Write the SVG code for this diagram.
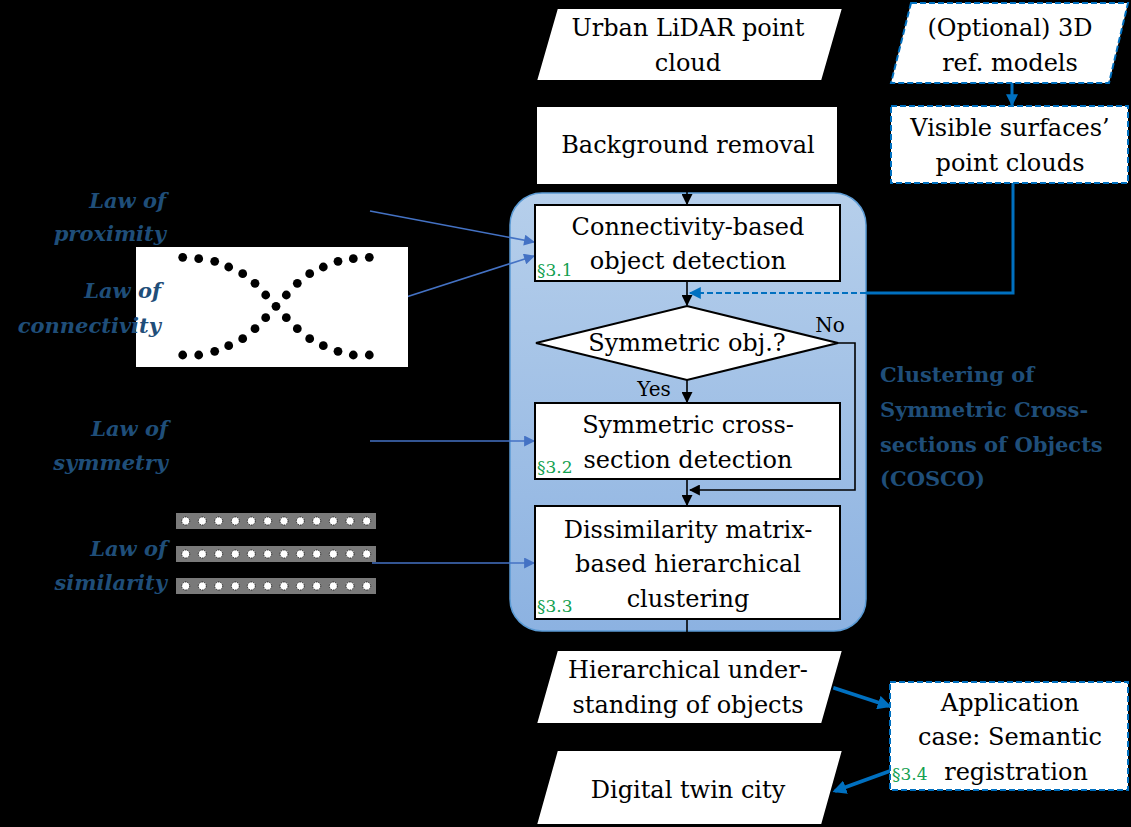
<svg xmlns="http://www.w3.org/2000/svg" width="1131" height="827" viewBox="0 0 1131 827">
<defs>
<style>
text{font-family:"DejaVu Serif",serif}
.t{font-size:24px;fill:#000;text-anchor:middle}
.sm{font-size:20px}
.sec{font-size:17px;fill:#12a04f}
.law{font-size:21px;font-style:italic;font-weight:bold;fill:#1f4e79;text-anchor:end}
.cos{font-size:21px;font-weight:bold;fill:#1f4e79}
.box{fill:#fff;stroke:#000;stroke-width:2}
.dbox{fill:#fff;stroke:#0070c0;stroke-width:2;stroke-dasharray:6 3}
.fl{fill:none;stroke:#000;stroke-width:1.6}
.law-a{fill:none;stroke:#4472c4;stroke-width:1.6}
.app-a{fill:none;stroke:#0070c0;stroke-width:3.5}
.sd{fill:#fff;stroke:#000;stroke-width:0.8;stroke-dasharray:1.5 1}
</style>
<linearGradient id="g" x1="0" y1="0" x2="0" y2="1">
<stop offset="0" stop-color="#b6cfeb"/>
<stop offset="1" stop-color="#8cb2e1"/>
</linearGradient>
<marker id="abig" viewBox="0 0 10 10" refX="9" refY="5" markerWidth="11" markerHeight="11" markerUnits="userSpaceOnUse" orient="auto"><path d="M0,0 L10,5 L0,10 z" fill="#000"/></marker>
<marker id="al" viewBox="0 0 10 10" refX="9" refY="5" markerWidth="12" markerHeight="11" markerUnits="userSpaceOnUse" orient="auto"><path d="M0,0 L10,5 L0,10 z" fill="#4472c4"/></marker>
<marker id="aa" viewBox="0 0 10 10" refX="8" refY="5" markerWidth="14" markerHeight="14" markerUnits="userSpaceOnUse" orient="auto"><path d="M0,0 L10,5 L0,10 z" fill="#0070c0"/></marker>
<marker id="ad" viewBox="0 0 10 10" refX="9" refY="5" markerWidth="13" markerHeight="12" markerUnits="userSpaceOnUse" orient="auto"><path d="M0,0 L10,5 L0,10 z" fill="#0070c0"/></marker>
</defs>
<rect width="1131" height="827" fill="#000"/>

<g id="cosco-region">
<rect x="510" y="193" width="356" height="438" rx="32" fill="url(#g)" stroke="#5b9bd5" stroke-width="1.5"/>
</g>

<g id="connectors">
<line class="fl" x1="687" y1="81" x2="687" y2="106"/>
<line class="fl" x1="687" y1="185" x2="687" y2="204" marker-end="url(#abig)"/>
<line class="fl" x1="687" y1="281" x2="687" y2="305" marker-end="url(#abig)"/>
<line class="fl" x1="687" y1="380" x2="687" y2="402" marker-end="url(#abig)"/>
<line class="fl" x1="687" y1="479" x2="687" y2="505" marker-end="url(#abig)"/>
<polyline class="fl" points="838,343 855,343 855,490 690,490" marker-end="url(#abig)"/>
<line class="fl" x1="687" y1="619" x2="687" y2="650"/>
<line class="fl" x1="687" y1="724" x2="687" y2="750"/>
<line x1="1012" y1="83" x2="1012" y2="105" stroke="#0070c0" stroke-width="3" marker-end="url(#ad)"/>
<polyline points="1013,183 1013,293 866,293" fill="none" stroke="#0070c0" stroke-width="3"/>
<line x1="866" y1="293" x2="690" y2="293" stroke="#0070c0" stroke-width="2" stroke-dasharray="6 3" marker-end="url(#ad)"/>
<line class="law-a" x1="370" y1="211" x2="534" y2="242" marker-end="url(#al)"/>
<line class="law-a" x1="372" y1="308" x2="534" y2="256" marker-end="url(#al)"/>
<line class="law-a" x1="370" y1="441" x2="534" y2="441" marker-end="url(#al)"/>
<line class="law-a" x1="372" y1="563" x2="534" y2="563" marker-end="url(#al)"/>
<line class="app-a" x1="828" y1="686" x2="889" y2="706" marker-end="url(#aa)"/>
<line class="app-a" x1="890" y1="771" x2="835" y2="791" marker-end="url(#aa)"/>
</g>

<g id="urban-lidar">
<polygon class="box" points="557,8 843,8 822,81 536,81"/>
<text class="t" x="688" y="36">Urban LiDAR point</text>
<text class="t" x="688" y="71">cloud</text>
</g>
<g id="background-removal">
<rect class="box" x="536" y="106" width="302" height="79"/>
<text class="t" x="688" y="153">Background removal</text>
</g>
<g id="optional-3d">
<polygon class="dbox" points="911,3 1128,3 1109,83 891,83"/>
<text class="t" x="1010" y="36">(Optional) 3D</text>
<text class="t" x="1010" y="71">ref. models</text>
</g>
<g id="visible-surfaces">
<rect class="dbox" x="891" y="106" width="237" height="77"/>
<text class="t" x="1010" y="136">Visible surfaces’</text>
<text class="t" x="1010" y="171">point clouds</text>
</g>
<g id="connectivity">
<rect class="box" x="535" y="205" width="305" height="76"/>
<text class="t" x="688" y="235">Connectivity-based</text>
<text class="t" x="688" y="269">object detection</text>
<text class="sec" x="537" y="276">§3.1</text>
</g>
<g id="decision">
<polygon class="box" points="536,343 687,306 838,343 687,380"/>
<text class="t" x="687" y="351">Symmetric obj.?</text>
<text class="t sm" x="830" y="332">No</text>
<text class="t sm" x="654" y="396">Yes</text>
</g>
<g id="symmetric-cross-section">
<rect class="box" x="535" y="403" width="305" height="76"/>
<text class="t" x="688" y="433">Symmetric cross-</text>
<text class="t" x="688" y="468">section detection</text>
<text class="sec" x="537" y="473">§3.2</text>
</g>
<g id="dissimilarity">
<rect class="box" x="535" y="506" width="305" height="113"/>
<text class="t" x="688" y="538">Dissimilarity matrix-</text>
<text class="t" x="688" y="572">based hierarchical</text>
<text class="t" x="688" y="607">clustering</text>
<text class="sec" x="537" y="612">§3.3</text>
</g>
<g id="hierarchical-understanding">
<polygon class="box" points="557,650 843,650 822,724 536,724"/>
<text class="t" x="688" y="678">Hierarchical under-</text>
<text class="t" x="688" y="713">standing of objects</text>
</g>
<g id="digital-twin">
<polygon class="box" points="557,750 843,750 822,825 536,825"/>
<text class="t" x="688" y="798">Digital twin city</text>
</g>
<g id="application-case">
<rect class="dbox" x="890" y="682" width="238" height="108"/>
<text class="t" x="1010" y="711">Application</text>
<text class="t" x="1010" y="745">case: Semantic</text>
<text class="t" x="1016" y="780">registration</text>
<text class="sec" x="892" y="780">§3.4</text>
</g>

<g id="cosco-label">
<text class="cos" x="880" y="382">Clustering of</text>
<text class="cos" x="880" y="417">Symmetric Cross-</text>
<text class="cos" x="880" y="452">sections of Objects</text>
<text class="cos" x="880" y="486">(COSCO)</text>
</g>

<g id="law-proximity">
<text class="law" x="166" y="208">Law of</text>
<text class="law" x="166" y="241">proximity</text>
</g>
<g id="connectivity-figure">
<rect x="136" y="247" width="272" height="120" fill="#fff"/>
<g fill="#000">
<circle cx="182.7" cy="257.3" r="4.4"/><circle cx="198.7" cy="258.7" r="4.4"/><circle cx="214.7" cy="261.3" r="4.4"/><circle cx="228.7" cy="267" r="4.4"/><circle cx="242.7" cy="273.7" r="4.4"/><circle cx="255" cy="283.3" r="4.4"/><circle cx="265.7" cy="295" r="4.4"/><circle cx="276" cy="306.3" r="4.4"/><circle cx="286.3" cy="295" r="4.4"/><circle cx="297.3" cy="283.3" r="4.4"/><circle cx="309.7" cy="273.7" r="4.4"/><circle cx="323.3" cy="267" r="4.4"/><circle cx="338" cy="261.3" r="4.4"/><circle cx="353.3" cy="258.7" r="4.4"/><circle cx="369.3" cy="257.3" r="4.4"/>
<circle cx="182.7" cy="355" r="4.4"/><circle cx="198.7" cy="355" r="4.4"/><circle cx="214.7" cy="351.3" r="4.4"/><circle cx="228.7" cy="345.7" r="4.4"/><circle cx="242.7" cy="338.7" r="4.4"/><circle cx="255" cy="328.7" r="4.4"/><circle cx="265.7" cy="317.7" r="4.4"/><circle cx="286.3" cy="317.7" r="4.4"/><circle cx="297.3" cy="328.7" r="4.4"/><circle cx="309.7" cy="338.7" r="4.4"/><circle cx="323.3" cy="345.7" r="4.4"/><circle cx="338" cy="351.3" r="4.4"/><circle cx="353.3" cy="355" r="4.4"/><circle cx="369.3" cy="355" r="4.4"/>
</g>
</g>
<g id="law-connectivity">
<text class="law" x="161" y="298">Law of</text>
<text class="law" x="161" y="333">connectivity</text>
</g>
<g id="law-symmetry">
<text class="law" x="168" y="436">Law of</text>
<text class="law" x="168" y="470">symmetry</text>
</g>
<g id="similarity-figure">
<rect x="176" y="513" width="200" height="16" fill="#7a7a7a"/>
<rect x="176" y="546" width="200" height="16" fill="#7a7a7a"/>
<rect x="176" y="578" width="200" height="16" fill="#7a7a7a"/>
<g>
<circle class="sd" cx="185.7" cy="521" r="4"/><circle class="sd" cx="202.3" cy="521" r="4"/><circle class="sd" cx="218.7" cy="521" r="4"/><circle class="sd" cx="235.3" cy="521" r="4"/><circle class="sd" cx="251.3" cy="521" r="4"/><circle class="sd" cx="267.7" cy="521" r="4"/><circle class="sd" cx="284" cy="521" r="4"/><circle class="sd" cx="300.3" cy="521" r="4"/><circle class="sd" cx="316.7" cy="521" r="4"/><circle class="sd" cx="333.3" cy="521" r="4"/><circle class="sd" cx="350" cy="521" r="4"/><circle class="sd" cx="366.7" cy="521" r="4"/>
<circle class="sd" cx="185.7" cy="554" r="4"/><circle class="sd" cx="202.3" cy="554" r="4"/><circle class="sd" cx="218.7" cy="554" r="4"/><circle class="sd" cx="235.3" cy="554" r="4"/><circle class="sd" cx="251.3" cy="554" r="4"/><circle class="sd" cx="267.7" cy="554" r="4"/><circle class="sd" cx="284" cy="554" r="4"/><circle class="sd" cx="300.3" cy="554" r="4"/><circle class="sd" cx="316.7" cy="554" r="4"/><circle class="sd" cx="333.3" cy="554" r="4"/><circle class="sd" cx="350" cy="554" r="4"/><circle class="sd" cx="366.7" cy="554" r="4"/>
<circle class="sd" cx="185.7" cy="586" r="4"/><circle class="sd" cx="202.3" cy="586" r="4"/><circle class="sd" cx="218.7" cy="586" r="4"/><circle class="sd" cx="235.3" cy="586" r="4"/><circle class="sd" cx="251.3" cy="586" r="4"/><circle class="sd" cx="267.7" cy="586" r="4"/><circle class="sd" cx="284" cy="586" r="4"/><circle class="sd" cx="300.3" cy="586" r="4"/><circle class="sd" cx="316.7" cy="586" r="4"/><circle class="sd" cx="333.3" cy="586" r="4"/><circle class="sd" cx="350" cy="586" r="4"/><circle class="sd" cx="366.7" cy="586" r="4"/>
</g>
</g>
<g id="law-similarity">
<text class="law" x="167" y="556">Law of</text>
<text class="law" x="167" y="590">similarity</text>
</g>
</svg>
